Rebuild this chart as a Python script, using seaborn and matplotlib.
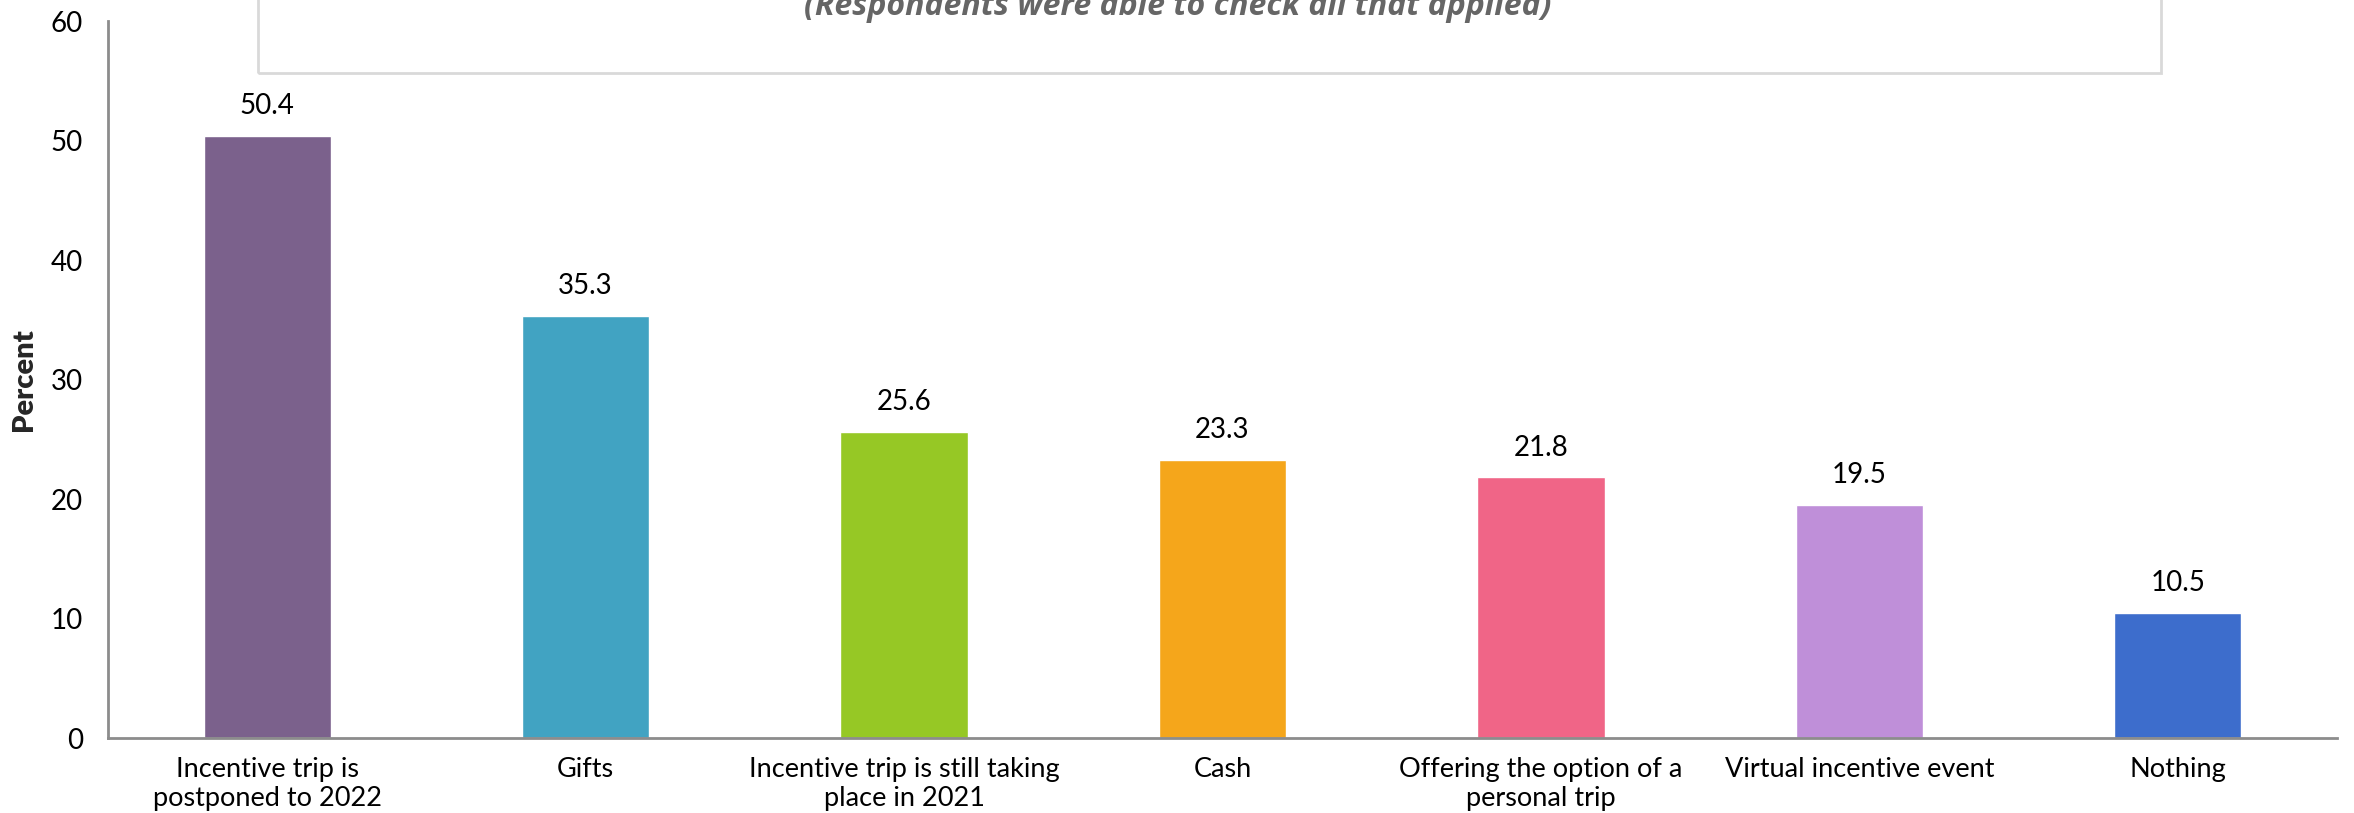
import numpy as np
import pandas as pd
import seaborn as sns
import matplotlib.pyplot as plt
from matplotlib.patches import Rectangle

# Datos del gráfico
categories = [
    "Incentive trip is\npostponed to 2022",
    "Gifts",
    "Incentive trip is still taking\nplace in 2021",
    "Cash",
    "Offering the option of a\npersonal trip",
    "Virtual incentive event",
    "Nothing",
]
values = [50.4, 35.3, 25.6, 23.3, 21.8, 19.5, 10.5]
colors = ["#7B618C", "#41A3C2", "#96C825", "#F5A61B", "#F06587", "#BF8FD9", "#3D6DCC"]
yticks = [0, 10, 20, 30, 40, 50, 60]

df = pd.DataFrame({"cat": categories, "val": values})

sns.set_style("white")
plt.rcParams["font.family"] = ["Lato", "DejaVu Sans"]

fig = plt.figure(figsize=(23.54, 8.13), dpi=100)
ax = fig.add_axes([108 / 2354, 1 - 738 / 813, (2337 - 108) / 2354, (738 - 21) / 813])

sns.barplot(data=df, x="cat", y="val", hue="cat", palette=colors,
            width=0.4, legend=False, ax=ax, saturation=1)

ax.set_xlim(-0.5, len(categories) - 0.5)
ax.set_ylim(0, 60)
ax.set_yticks(yticks)
ax.set_xlabel("")
ax.set_ylabel("Percent", fontsize=21, fontweight="heavy")
ax.yaxis.set_label_coords(-0.032, 0.5)

# etiquetas de valor
for i, v in enumerate(values):
    ax.text(i, v + 1.4, f"{v}", ha="center", va="bottom", fontsize=20, color="black")

for s in ["top", "right"]:
    ax.spines[s].set_visible(False)
for s in ["left", "bottom"]:
    ax.spines[s].set_color("#8c8c8c")
    ax.spines[s].set_linewidth(2)

ax.tick_params(axis="y", direction="in", length=6, width=1.5, color="#8c8c8c",
               labelsize=20, pad=18, labelcolor="black")
ax.tick_params(axis="x", length=0, labelsize=19.5, pad=14, labelcolor="black")
ax.set_xticks(np.arange(len(categories)) + 0.5, minor=True)
ax.tick_params(axis="x", which="minor", direction="in", length=7, width=1.5, color="#8c8c8c")

# recuadro del título (cortado arriba)
fig.patches.append(Rectangle((258 / 2354, 1 - 73 / 813), (2161 - 258) / 2354, 0.2,
                             transform=fig.transFigure, fill=False,
                             edgecolor="#d9d9d9", linewidth=2))
fig.text(1178 / 2354, 1 - 15 / 813, "(Respondents were able to check all that applied)",
         ha="center", va="baseline", fontsize=23, fontweight="bold", style="italic",
         color="#666666", family=["Open Sans", "DejaVu Sans"])

fig.savefig("out.png", dpi=100)
